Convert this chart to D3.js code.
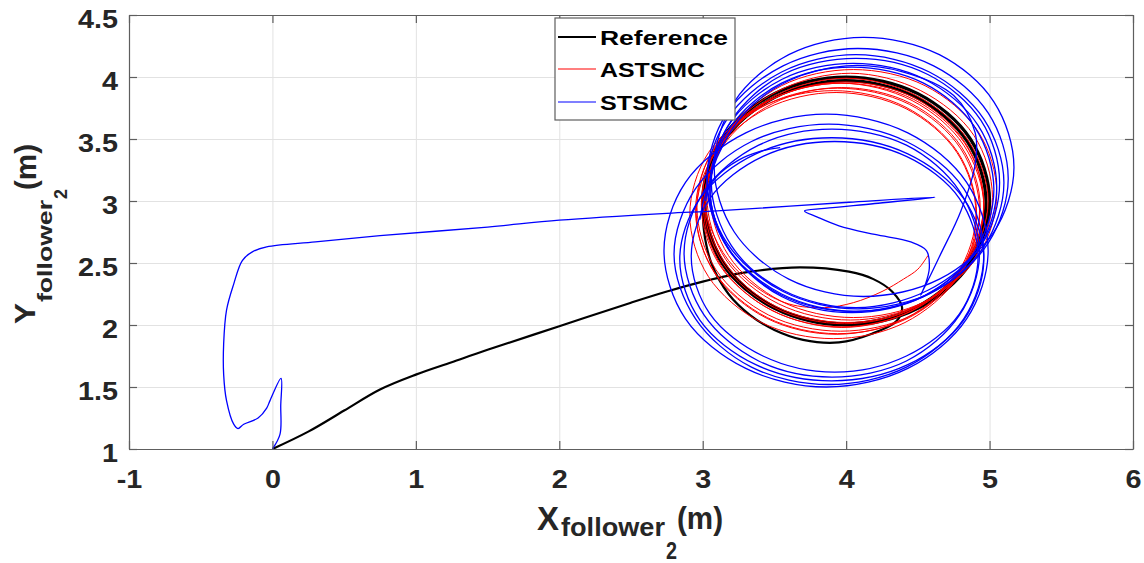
<!DOCTYPE html>
<html>
<head>
<meta charset="utf-8">
<script src="https://cdn.jsdelivr.net/npm/d3@7"></script>
<style>
  body { margin: 0; background: #fff; }
  svg { display: block; }
</style>
</head>
<body>
<script>
// tick values / legend
var xTicks = [-1, 0, 1, 2, 3, 4, 5, 6];
var yTicks = [1, 1.5, 2, 2.5, 3, 3.5, 4, 4.5];
var seriesNames = ['Reference', 'ASTSMC', 'STSMC'];
var seriesColors = ['#000000', '#ff0000', '#0000ff'];

// Reference: approach from (0,1) then the circle
var refStart = [[0,1],[0.25,1.14],[0.5,1.31],[0.75,1.48],[1,1.6],[1.25,1.7],[1.5,1.8],[2,1.99],[2.5,2.18],[2.75,2.27],[3,2.35],[3.33,2.43],[3.68,2.465],[4.02,2.43],[4.19,2.37],[4.32,2.27],[4.39,2.14],[4.35,2.03],[4.18,1.93],[3.95,1.86],[3.7,1.88],[3.5,1.96],[3.33,2.08],[3.18,2.25],[3.06,2.5],[3.01,2.75],[3,3]];
var refLoopA = [[5,3],[4.866,3.5],[4.5,3.866],[4,4],[3.5,3.866],[3.134,3.5],[3,3],[3.134,2.5],[3.5,2.134],[4,2],[4.5,2.134],[4.866,2.5]];
var refLoopB = [[4.975,2.99],[4.844,3.48],[4.485,3.839],[3.995,3.97],[3.505,3.839],[3.146,3.48],[3.015,2.99],[3.146,2.5],[3.505,2.141],[3.995,2.01],[4.485,2.141],[4.844,2.5]];

// ASTSMC
var astsmcStart = [[4.57,2.56],[4.5,2.45],[4.4,2.37],[4.25,2.27],[4.05,2.18],[3.85,2.14],[3.6,2.17],[3.38,2.3],[3.18,2.52],[3.05,2.8],[3,3.05],[3.08,3.4],[3.3,3.72]];
var astsmcLap1 = [[4.91,2.89],[4.78,3.39],[4.41,3.76],[3.91,3.89],[3.41,3.76],[3.04,3.39],[2.91,2.89],[3.04,2.39],[3.41,2.02],[3.91,1.89],[4.41,2.02],[4.78,2.39]];
var astsmcLap2 = [[4.93,2.92],[4.8,3.42],[4.44,3.78],[3.94,3.91],[3.45,3.78],[3.08,3.42],[2.95,2.92],[3.08,2.43],[3.45,2.06],[3.94,1.93],[4.44,2.06],[4.8,2.43]];
var astsmcLap3 = [[4.96,2.95],[4.82,3.45],[4.46,3.81],[3.96,3.95],[3.46,3.81],[3.09,3.45],[2.96,2.95],[3.09,2.45],[3.46,2.08],[3.96,1.95],[4.46,2.08],[4.82,2.45]];
var astsmcLap4 = [[4.96,2.97],[4.83,3.46],[4.47,3.82],[3.97,3.95],[3.48,3.82],[3.12,3.46],[2.99,2.97],[3.12,2.48],[3.48,2.12],[3.97,1.98],[4.47,2.12],[4.83,2.48]];
var astsmcLap5 = [[4.96,2.99],[4.83,3.47],[4.48,3.83],[3.99,3.96],[3.5,3.83],[3.14,3.47],[3.01,2.99],[3.14,2.5],[3.5,2.14],[3.99,2.01],[4.48,2.14],[4.83,2.5]];
var astsmcLap6 = [[4.99,3],[4.85,3.49],[4.49,3.85],[4,3.99],[3.51,3.85],[3.15,3.49],[3.02,3],[3.15,2.51],[3.51,2.15],[4,2.02],[4.49,2.15],[4.85,2.51]];
var astsmcLap7 = [[5.02,3.03],[4.89,3.53],[4.52,3.89],[4.03,4.03],[3.53,3.89],[3.16,3.53],[3.03,3.03],[3.16,2.53],[3.53,2.17],[4.03,2.04],[4.52,2.17],[4.89,2.53]];
var astsmcLap8 = [[5.05,3.06],[4.92,3.56],[4.55,3.93],[4.05,4.06],[3.55,3.93],[3.18,3.56],[3.05,3.06],[3.18,2.56],[3.55,2.19],[4.05,2.06],[4.55,2.19],[4.92,2.56]];
var astsmcLap9 = [[4.905,2.9],[4.774,3.388],[4.418,3.744],[3.93,3.875],[3.443,3.744],[3.086,3.388],[2.955,2.9],[3.086,2.413],[3.443,2.056],[3.93,1.925],[4.418,2.056],[4.774,2.413]];
var astsmcLap10 = [[4.935,2.95],[4.806,3.432],[4.453,3.786],[3.97,3.915],[3.488,3.786],[3.134,3.432],[3.005,2.95],[3.134,2.468],[3.488,2.114],[3.97,1.985],[4.453,2.114],[4.806,2.468]];

// STSMC
var stsmcStart = [[0,1],[0.053,1.12],[0.058,1.35],[0.06,1.57],[-0.017,1.39],[-0.04,1.33],[-0.1,1.25],[-0.2,1.2],[-0.24,1.165],[-0.27,1.2],[-0.32,1.39],[-0.34,1.6],[-0.34,1.85],[-0.32,2.12],[-0.27,2.33],[-0.21,2.52],[-0.14,2.59],[-0.04,2.63],[0.3,2.67],[0.75,2.72],[1.5,2.79],[2,2.845],[2.75,2.9],[3.1,2.92],[4.02,2.99],[4.62,3.03],[4.2,2.98],[3.85,2.94],[3.71,2.92],[3.8,2.87],[3.95,2.8],[4.2,2.73],[4.45,2.67],[4.56,2.6],[4.58,2.46],[4.55,2.32],[4.52,2.24],[4.65,2.55],[4.8,2.92],[4.9,3.3],[4.9,3.55],[4.75,3.85],[4.4,4.04],[4,4.09],[3.6,3.97],[3.3,3.72],[3.1,3.35],[3.02,3]];
var stsmcEnd = [[2.98,2.85],[3.02,3.05],[3.1,3.2],[3.25,3.33],[3.4,3.4],[3.54,3.43]];
// laps pushed up-right
var stsmcUp1 = [[5.17,3.27],[5.03,3.8],[4.65,4.18],[4.12,4.32],[3.6,4.18],[3.22,3.8],[3.08,3.27],[3.22,2.75],[3.6,2.37],[4.12,2.23],[4.65,2.37],[5.03,2.75]];
var stsmcUp2 = [[5.13,3.18],[4.99,3.71],[4.61,4.09],[4.08,4.23],[3.56,4.09],[3.17,3.71],[3.03,3.18],[3.17,2.66],[3.56,2.27],[4.08,2.13],[4.61,2.27],[4.99,2.66]];
var stsmcUp3 = [[5.1,3.15],[4.96,3.66],[4.58,4.04],[4.07,4.18],[3.55,4.04],[3.17,3.66],[3.03,3.15],[3.17,2.63],[3.55,2.25],[4.07,2.11],[4.58,2.25],[4.96,2.63]];
var stsmcUp4 = [[5.07,3.15],[4.94,3.65],[4.57,4.02],[4.07,4.15],[3.56,4.02],[3.2,3.65],[3.06,3.15],[3.2,2.64],[3.56,2.28],[4.07,2.14],[4.57,2.28],[4.94,2.64]];
var stsmcUp5 = [[5.05,3.11],[4.92,3.61],[4.55,3.98],[4.05,4.11],[3.55,3.98],[3.18,3.61],[3.05,3.11],[3.18,2.61],[3.55,2.24],[4.05,2.11],[4.55,2.24],[4.92,2.61]];
var stsmcUp6 = [[5.03,3.09],[4.9,3.59],[4.54,3.95],[4.04,4.08],[3.55,3.95],[3.19,3.59],[3.05,3.09],[3.19,2.6],[3.55,2.23],[4.04,2.1],[4.54,2.23],[4.9,2.6]];
// laps pushed down-left
var stsmcLow1 = [[4.99,2.6],[4.84,3.15],[4.43,3.55],[3.86,3.7],[3.3,3.55],[2.88,3.15],[2.73,2.6],[2.88,2.05],[3.3,1.65],[3.86,1.5],[4.43,1.65],[4.84,2.05]];
var stsmcLow2 = [[4.96,2.57],[4.82,3.1],[4.42,3.48],[3.88,3.62],[3.34,3.48],[2.95,3.1],[2.8,2.57],[2.95,2.05],[3.34,1.66],[3.88,1.52],[4.42,1.66],[4.82,2.05]];
var stsmcLow3 = [[4.93,2.58],[4.79,3.08],[4.42,3.45],[3.9,3.58],[3.39,3.45],[3.01,3.08],[2.87,2.58],[3.01,2.08],[3.39,1.71],[3.9,1.58],[4.42,1.71],[4.79,2.08]];
var stsmcLow4 = [[4.92,2.55],[4.79,3.02],[4.42,3.36],[3.92,3.48],[3.42,3.36],[3.05,3.02],[2.92,2.55],[3.05,2.09],[3.42,1.75],[3.92,1.62],[4.42,1.75],[4.79,2.09]];
var stsmcLow5 = [[4.96,2.53],[4.82,3.02],[4.43,3.38],[3.9,3.51],[3.37,3.38],[2.98,3.02],[2.84,2.53],[2.98,2.04],[3.37,1.68],[3.9,1.55],[4.43,1.68],[4.82,2.04]];

var refLoops = [refLoopA, refLoopB];
var astsmcLaps = [astsmcLap1, astsmcLap2, astsmcLap3, astsmcLap4, astsmcLap5, astsmcLap6, astsmcLap7, astsmcLap8, astsmcLap9, astsmcLap10];
var stsmcLaps = [stsmcUp1, stsmcUp2, stsmcUp3, stsmcUp4, stsmcUp5, stsmcUp6, stsmcLow1, stsmcLow2, stsmcLow3, stsmcLow4, stsmcLow5];

var width = 1144, height = 563;
var margin = {top: 15, right: 11, bottom: 114, left: 129};
var plotW = width - margin.left - margin.right;
var plotH = height - margin.top - margin.bottom;
var font = "'Liberation Sans', Arial, sans-serif";
var axisColor = '#5e5e5e';
var textColor = '#262626';

var x = d3.scaleLinear().domain([-1, 6]).range([margin.left, width - margin.right]);
var y = d3.scaleLinear().domain([1, 4.5]).range([height - margin.bottom, margin.top]);

var svg = d3.select('body').append('svg')
  .attr('width', width)
  .attr('height', height);

svg.append('rect').attr('width', width).attr('height', height).attr('fill', '#fff');

svg.append('defs').append('clipPath').attr('id', 'plot-clip')
  .append('rect')
  .attr('x', margin.left).attr('y', margin.top)
  .attr('width', plotW).attr('height', plotH);

// grid
svg.append('g')
  .attr('transform', 'translate(' + [0, height - margin.bottom] + ')')
  .call(d3.axisBottom(x).tickValues(xTicks).tickSize(-plotH).tickFormat(''))
  .call(g => g.select('.domain').remove())
  .selectAll('line').attr('stroke', '#e2e2e2');

svg.append('g')
  .attr('transform', 'translate(' + [margin.left, 0] + ')')
  .call(d3.axisLeft(y).tickValues(yTicks).tickSize(-plotW).tickFormat(''))
  .call(g => g.select('.domain').remove())
  .selectAll('line').attr('stroke', '#e2e2e2');

var line = d3.line()
  .x(d => x(d[0]))
  .y(d => y(d[1]))
  .curve(d3.curveCatmullRom);

var loop = d3.line()
  .x(d => x(d[0]))
  .y(d => y(d[1]))
  .curve(d3.curveCatmullRomClosed);

var plot = svg.append('g').attr('clip-path', 'url(#plot-clip)');

function drawSeries(start, laps, extra, color, w, lapW) {
  var g = plot.append('g')
    .attr('fill', 'none')
    .attr('stroke', color)
    .attr('stroke-width', w)
    .attr('stroke-linejoin', 'round');
  g.append('path').attr('d', line(start));
  g.selectAll('path.lap')
    .data(laps)
    .enter().append('path')
    .attr('class', 'lap')
    .attr('stroke-width', lapW)
    .attr('d', d => loop(d));
  if (extra) g.append('path').attr('d', line(extra));
}

drawSeries(refStart, refLoops, null, seriesColors[0], 2.2, 3.2);
drawSeries(astsmcStart, astsmcLaps, null, seriesColors[1], 1, 1);
drawSeries(stsmcStart, stsmcLaps, stsmcEnd, seriesColors[2], 1.3, 1.3);

// axes (ticks inward, box all round)
function styleAxis(g) {
  g.selectAll('path, line').attr('stroke', axisColor).attr('stroke-width', 1.2);
  g.attr('font-family', font).attr('font-size', 25).attr('font-weight', 'bold');
}

svg.append('g')
  .attr('transform', 'translate(' + [0, height - margin.bottom] + ')')
  .call(d3.axisBottom(x).tickValues(xTicks).tickSizeInner(-8).tickSizeOuter(0).tickFormat(d => String(d)))
  .call(styleAxis)
  .selectAll('text')
  .attr('y', 39).attr('dy', 0)
  .attr('fill', textColor)
  .attr('transform', 'scale(1.15,1)');

svg.append('g')
  .attr('transform', 'translate(' + [margin.left, 0] + ')')
  .call(d3.axisLeft(y).tickValues(yTicks).tickSizeInner(-8).tickSizeOuter(0).tickFormat(d => String(d)))
  .call(styleAxis)
  .selectAll('text')
  .attr('x', -11 / 1.15).attr('dy', 12)
  .attr('fill', textColor)
  .attr('transform', 'scale(1.15,1)');

svg.append('g')
  .attr('transform', 'translate(' + [0, margin.top] + ')')
  .call(d3.axisTop(x).tickValues(xTicks).tickSizeInner(-8).tickSizeOuter(0).tickFormat(''))
  .call(styleAxis);

svg.append('g')
  .attr('transform', 'translate(' + [width - margin.right, 0] + ')')
  .call(d3.axisRight(y).tickValues(yTicks).tickSizeInner(-8).tickSizeOuter(0).tickFormat(''))
  .call(styleAxis);

// axis labels, piece by piece (sub / subsub scripts)
function piece(txt, px, py, size, len, rot) {
  svg.append('text')
    .attr('transform', 'translate(' + [px, py] + ')' + (rot ? ' rotate(-90)' : ''))
    .attr('font-family', font)
    .attr('font-weight', 'bold')
    .attr('font-size', size)
    .attr('fill', textColor)
    .attr('textLength', len)
    .attr('lengthAdjust', 'spacingAndGlyphs')
    .text(txt);
}

piece('X', 537, 530, 33, 22, false);
piece('follower', 561, 536, 25, 104, false);
piece('2', 666, 559, 23, 11, false);
piece('(m)', 677, 529, 32, 46, false);

piece('Y', 35, 324, 30, 21, true);
piece('follower', 52, 302, 21, 102, true);
piece('2', 67, 199, 19, 10, true);
piece('(m)', 36, 190, 30, 46, true);

// legend
var legend = svg.append('g');
legend.append('rect')
  .attr('x', 555).attr('y', 18)
  .attr('width', 180).attr('height', 102)
  .attr('fill', '#fff')
  .attr('stroke', axisColor)
  .attr('stroke-width', 1.2);

var legendY = [37, 69, 102];
var legendLen = [128, 105, 88];
seriesNames.forEach(function (name, i) {
  legend.append('line')
    .attr('x1', 558).attr('x2', 596)
    .attr('y1', legendY[i]).attr('y2', legendY[i])
    .attr('stroke', seriesColors[i])
    .attr('stroke-width', i === 0 ? 2.2 : 1.2);
  legend.append('text')
    .attr('x', 600).attr('y', legendY[i] + 8)
    .attr('font-family', font)
    .attr('font-weight', 'bold')
    .attr('font-size', 21)
    .attr('fill', '#000')
    .attr('textLength', legendLen[i])
    .attr('lengthAdjust', 'spacingAndGlyphs')
    .text(name);
});
</script>
</body>
</html>
